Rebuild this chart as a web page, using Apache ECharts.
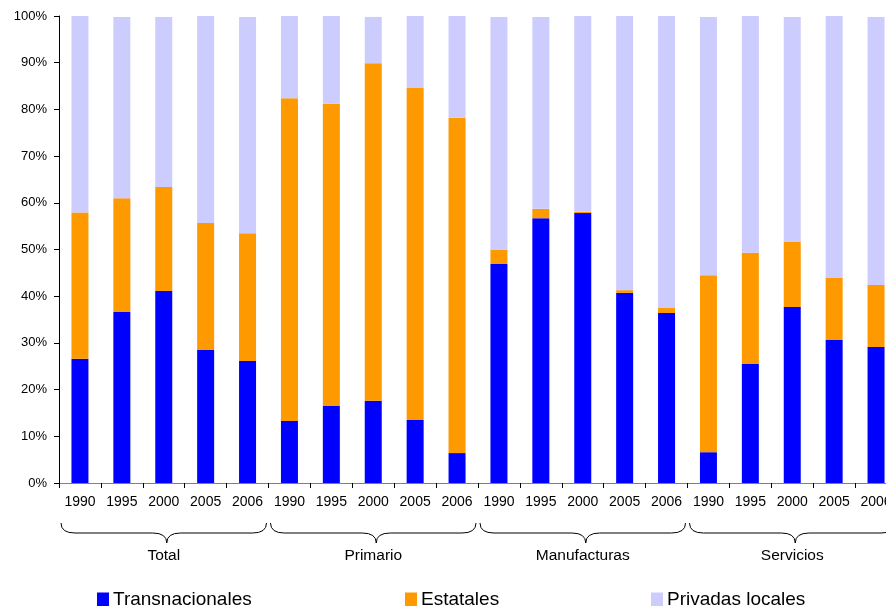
<!DOCTYPE html>
<html>
<head>
<meta charset="utf-8">
<script src="https://cdn.jsdelivr.net/npm/echarts@6/dist/echarts.min.js"></script>
<style>
  html, body { margin: 0; padding: 0; background: #fff; overflow: hidden; }
  /* the last category runs past the right edge of the window */
  #chart { width: 897px; height: 606px; }
</style>
</head>
<body>
<div id="chart"></div>
<script>
// Ownership structure by sector and year (percent of total)
var years = ['1990', '1995', '2000', '2005', '2006',
             '1990', '1995', '2000', '2005', '2006',
             '1990', '1995', '2000', '2005', '2006',
             '1990', '1995', '2000', '2005', '2006'];
var sectors = ['Total', 'Primario', 'Manufacturas', 'Servicios'];
var yTicks = [0, 10, 20, 30, 40, 50, 60, 70, 80, 90, 100];

var transnacionales = [26.6, 36.6, 41.1, 28.5, 26.1,
                       13.3, 16.5, 17.6, 13.5, 6.4,
                       46.9, 56.7, 57.8, 40.7, 36.4,
                       6.6, 25.5, 37.7, 30.6, 29.1];
var estatales = [31.3, 24.4, 22.3, 27.2, 27.4,
                 69.1, 64.7, 72.3, 71.1, 71.8,
                 3.0, 2.0, 0.3, 0.6, 1.1,
                 37.9, 23.8, 13.9, 13.3, 13.3];
var privadasLocales = [42.1, 38.8, 36.4, 44.3, 46.3,
                       17.6, 18.8, 9.9, 15.4, 21.8,
                       49.9, 41.1, 41.9, 58.7, 62.5,
                       55.3, 50.7, 48.2, 56.1, 57.4];

var chart = echarts.init(document.getElementById('chart'), null, { renderer: 'canvas' });
var font = 'Arial, "Liberation Sans", sans-serif';

function barSeries(name, data, color) {
  return {
    name: name,
    type: 'bar',
    stack: 'total',
    data: data,
    barWidth: 17,
    itemStyle: { color: color },
    emphasis: { disabled: true },
    animation: false
  };
}

function legendItem(name, left) {
  return {
    left: left, top: 590, padding: 0,
    itemWidth: 12, itemHeight: 14, itemGap: 0, icon: 'rect',
    data: [name], selectedMode: false,
    textStyle: { fontSize: 19, color: '#000', fontFamily: font, padding: [0, 0, 0, -1] }
  };
}

chart.setOption({
  animation: false,
  textStyle: { fontFamily: font },
  grid: { left: 59, top: 16, right: 0, bottom: 123, containLabel: false },
  legend: [
    legendItem('Transnacionales', 97),
    legendItem('Estatales', 405),
    legendItem('Privadas locales', 651)
  ],
  xAxis: [
    {
      type: 'category',
      data: years,
      position: 'bottom',
      axisLine: { lineStyle: { color: '#808080', width: 1 } },
      axisTick: { show: true, length: 5, lineStyle: { color: '#000' } },
      axisLabel: { color: '#000', fontSize: 14, margin: 12, interval: 0 }
    },
    {
      type: 'category',
      data: sectors,
      position: 'bottom',
      offset: 57,
      axisLine: { show: false },
      axisTick: { show: false },
      axisLabel: { color: '#000', fontSize: 15.5, interval: 0 }
    }
  ],
  yAxis: {
    type: 'value',
    min: yTicks[0],
    max: yTicks[yTicks.length - 1],
    interval: 10,
    axisLine: { show: true, lineStyle: { color: '#000' } },
    axisTick: { show: true, length: 5, lineStyle: { color: '#000' } },
    splitLine: { show: false },
    axisLabel: { formatter: '{value}%', color: '#000', fontSize: 13, margin: 12 }
  },
  series: [
    barSeries('Transnacionales', transnacionales, '#0000FF'),
    barSeries('Estatales', estatales, '#FF9900'),
    barSeries('Privadas locales', privadasLocales, '#CCCCFF')
  ]
});

// Curly braces grouping the years of each sector
var half = (chart.convertToPixel({ xAxisIndex: 0 }, 1) - chart.convertToPixel({ xAxisIndex: 0 }, 0)) / 2;
var braces = [];
var braceStyle = { stroke: '#000', lineWidth: 1, fill: null };
for (var g = 0; g < sectors.length; g++) {
  var xl = chart.convertToPixel({ xAxisIndex: 0 }, g * 5) - half + 2;
  var xr = chart.convertToPixel({ xAxisIndex: 0 }, g * 5 + 4) + half - 2;
  var xc = (xl + xr) / 2 + 3;
  var yTop = 523, yMid = 533, yTip = 543, r = 14;
  braces.push(
    { type: 'bezierCurve', silent: true, style: braceStyle,
      shape: { x1: xl, y1: yTop, x2: xl + r, y2: yMid, cpx1: xl, cpy1: yMid } },
    { type: 'line', silent: true, style: braceStyle,
      shape: { x1: xl + r, y1: yMid, x2: xc - r, y2: yMid } },
    { type: 'bezierCurve', silent: true, style: braceStyle,
      shape: { x1: xc - r, y1: yMid, x2: xc, y2: yTip, cpx1: xc, cpy1: yMid } },
    { type: 'bezierCurve', silent: true, style: braceStyle,
      shape: { x1: xc, y1: yTip, x2: xc + r, y2: yMid, cpx1: xc, cpy1: yMid } },
    { type: 'line', silent: true, style: braceStyle,
      shape: { x1: xc + r, y1: yMid, x2: xr - r, y2: yMid } },
    { type: 'bezierCurve', silent: true, style: braceStyle,
      shape: { x1: xr - r, y1: yMid, x2: xr, y2: yTop, cpx1: xr, cpy1: yMid } }
  );
}
chart.setOption({ graphic: braces });
</script>
</body>
</html>
